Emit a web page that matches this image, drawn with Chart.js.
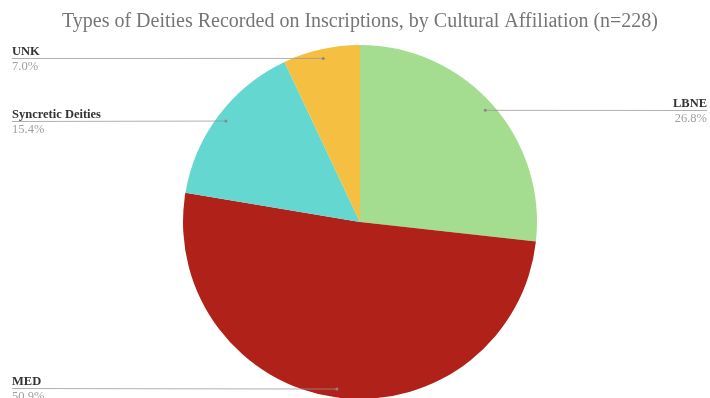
<!DOCTYPE html>
<html>
<head>
<meta charset="utf-8">
<script src="https://cdn.jsdelivr.net/npm/chart.js@4"></script>
<style>
  html, body { margin: 0; padding: 0; background: #fff; overflow: hidden; }
  #wrap { width: 710px; height: 400px; }
</style>
</head>
<body>
<div id="wrap"><canvas id="pie" width="710" height="400"></canvas></div>
<script>
// ── Données ──────────────────────────────────────────────────────────────────
const CATEGORIES = ["LBNE", "MED", "Syncretic Deities", "UNK"];
const COUNTS     = [61, 116, 35, 16];          // n = 228
const COLORS     = ["#a4dd90", "#b02119", "#63d7d0", "#f5bf41"];
const TITLE      = "Types of Deities Recorded on Inscriptions, by Cultural Affiliation (n=228)";

// où poser chaque étiquette (côté, x du texte, y de la ligne)
const LABEL_POS = [
    { side: "right", x: 707, y: 110 },
    { side: "left",  x: 12,  y: 388 },
    { side: "left",  x: 12,  y: 121 },
    { side: "left",  x: 12,  y: 58  },
];

const SERIF = "'Liberation Serif', 'DejaVu Serif', serif";

// ── Plugin : titre + étiquettes à lignes de rappel ───────────────────────────
const leaderLabels = {
    id: "leaderLabels",
    afterDraw(chart) {
        const ctx = chart.ctx;
        const total = COUNTS.reduce((a, b) => a + b, 0);

        ctx.save();
        ctx.font = `20px ${SERIF}`;
        ctx.fillStyle = "#757575";
        ctx.textAlign = "center";
        ctx.textBaseline = "alphabetic";
        ctx.fillText(TITLE, 360, 27);

        const arcs = chart.getDatasetMeta(0).data;
        arcs.forEach((arc, i) => {
            const { x, y, startAngle, endAngle, outerRadius } = arc.getProps(
                ["x", "y", "startAngle", "endAngle", "outerRadius"], true);
            const mid = (startAngle + endAngle) / 2;
            const ex = x + Math.cos(mid) * outerRadius * 0.95;
            const ey = y + Math.sin(mid) * outerRadius * 0.95;
            const p = LABEL_POS[i];

            // ligne
            ctx.strokeStyle = "rgba(150,150,150,0.75)";
            ctx.lineWidth = 1;
            ctx.beginPath();
            ctx.moveTo(p.x, p.y + 0.5);
            ctx.lineTo(ex, ey + 0.5);
            ctx.stroke();
            ctx.fillStyle = "#888";
            ctx.beginPath();
            ctx.arc(ex, ey + 0.5, 1.5, 0, Math.PI * 2);
            ctx.fill();

            // textes
            ctx.textAlign = p.side === "right" ? "right" : "left";
            ctx.font = `bold 12.5px ${SERIF}`;
            ctx.fillStyle = "#333";
            ctx.fillText(CATEGORIES[i], p.x, p.y - 3);
            ctx.font = `12.5px ${SERIF}`;
            ctx.fillStyle = "#a0a0a0";
            ctx.fillText((COUNTS[i] / total * 100).toFixed(1) + "%", p.x, p.y + 12);
        });
        ctx.restore();
    },
};

new Chart(document.getElementById("pie"), {
    type: "pie",
    data: {
        labels: CATEGORIES,
        datasets: [{
            data: COUNTS,
            backgroundColor: COLORS,
            borderWidth: 0,
        }],
    },
    options: {
        responsive: false,
        animation: false,
        layout: { padding: { top: 45, bottom: 1, left: 10, right: 0 } },
        plugins: {
            legend:  { display: false },
            tooltip: { enabled: false },
            title:   { display: false },
        },
    },
    plugins: [leaderLabels],
});
</script>
</body>
</html>
